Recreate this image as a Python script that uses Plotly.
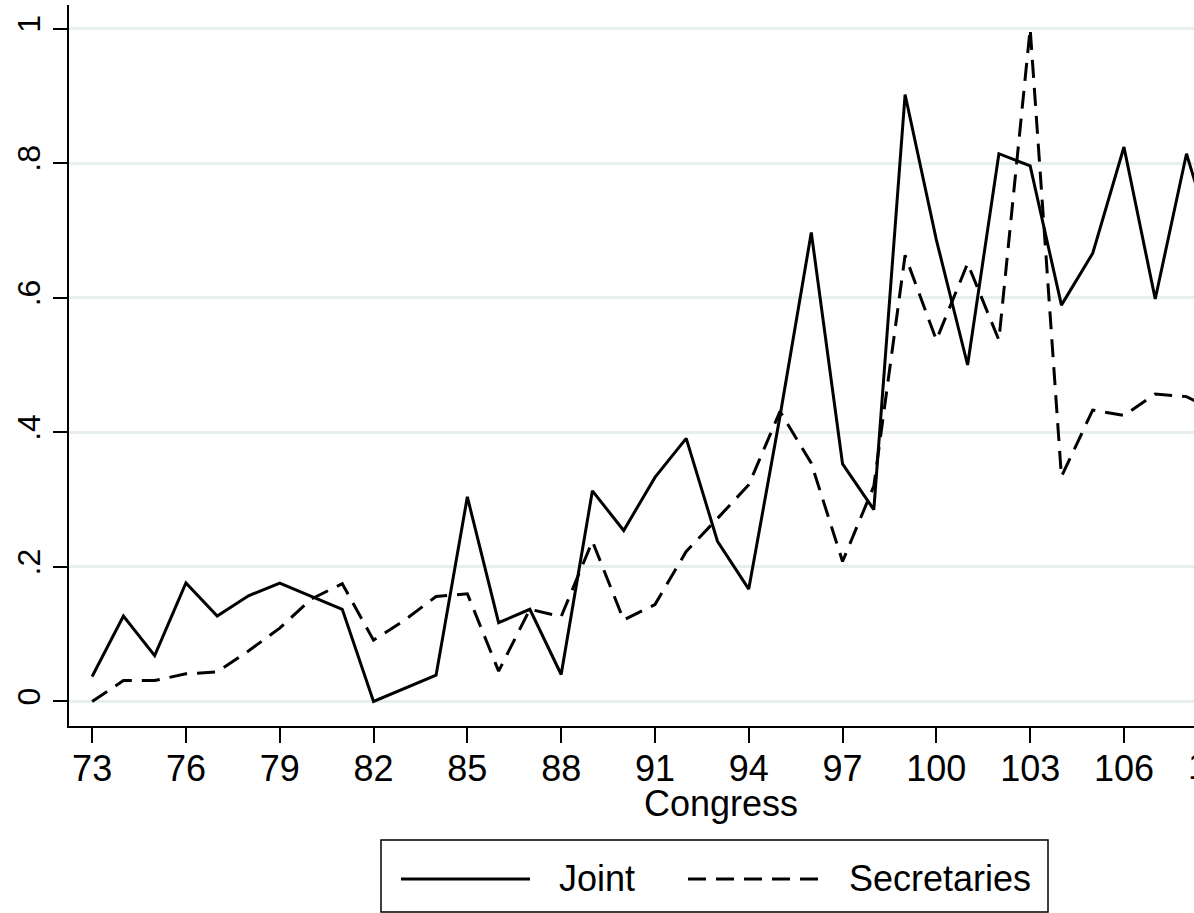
import plotly.graph_objects as go

# Congress numbers and the two shares plotted against them
congress = list(range(73, 110))
joint = [0.037, 0.127, 0.068, 0.176, 0.127, 0.157, 0.176, 0.156, 0.137, 0.0,
         0.02, 0.039, 0.304, 0.117, 0.137, 0.04, 0.313, 0.254, 0.333, 0.391,
         0.238, 0.167, 0.424, 0.697, 0.353, 0.285, 0.902, 0.686, 0.50, 0.814,
         0.796, 0.589, 0.666, 0.824, 0.598, 0.814, 0.66]
secretaries = [0.0, 0.031, 0.031, 0.041, 0.044, 0.075, 0.109, 0.152, 0.175, 0.091,
               0.121, 0.156, 0.160, 0.045, 0.137, 0.126, 0.238, 0.121, 0.144, 0.223,
               0.272, 0.322, 0.431, 0.354, 0.208, 0.32, 0.663, 0.537, 0.651, 0.537,
               1.0, 0.334, 0.433, 0.425, 0.457, 0.453, 0.43]

y_ticks = [0, 0.2, 0.4, 0.6, 0.8, 1]
y_tick_text = ["0", ".2", ".4", ".6", ".8", "1"]

FONT = "Liberation Sans, Arial, Helvetica, sans-serif"
W, H = 1194, 913
ML, MR, MT, MB = 69, 0, 5, 187
PW, PH = W - ML - MR, H - MT - MB
LINE_W = 3
DASH = "18px,10px"


def px(x):
    return (x - ML) / PW


def py(y):
    return (H - MB - y) / PH


fig = go.Figure()
fig.add_trace(go.Scatter(x=congress, y=joint, mode="lines", name="Joint",
                         line=dict(color="black", width=LINE_W), showlegend=False))
fig.add_trace(go.Scatter(x=congress, y=secretaries, mode="lines", name="Secretaries",
                         line=dict(color="black", width=LINE_W, dash=DASH),
                         showlegend=False))

# legend drawn as a framed box with long line samples
shapes = [
    dict(type="rect", xref="paper", yref="paper", x0=px(381), x1=px(1048),
         y0=py(912), y1=py(840), line=dict(color="black", width=1.5)),
    dict(type="line", xref="paper", yref="paper", x0=px(401), x1=px(530),
         y0=py(879), y1=py(879), line=dict(color="black", width=LINE_W)),
    dict(type="line", xref="paper", yref="paper", x0=px(688), x1=px(825),
         y0=py(879), y1=py(879), line=dict(color="black", width=LINE_W, dash=DASH)),
]
annotations = [
    dict(text="Joint", xref="paper", yref="paper", x=px(557), y=py(879),
         xanchor="left", yanchor="middle", showarrow=False,
         font=dict(family=FONT, size=36, color="black")),
    dict(text="Secretaries", xref="paper", yref="paper", x=px(847), y=py(879),
         xanchor="left", yanchor="middle", showarrow=False,
         font=dict(family=FONT, size=36, color="black")),
    # axis title, centred under the full axis span
    dict(text="Congress", xref="paper", yref="paper", x=px(721), y=py(803),
         xanchor="center", yanchor="middle", showarrow=False,
         font=dict(family=FONT, size=36, color="black")),
    # next tick label, running past the right edge of the figure
    dict(text="109", xref="paper", yref="paper", x=px(1217.7), y=py(766),
         xanchor="center", yanchor="middle", showarrow=False,
         font=dict(family=FONT, size=36, color="black")),
]

fig.update_layout(
    width=W, height=H,
    margin=dict(l=ML, r=MR, t=MT, b=MB, pad=0),
    paper_bgcolor="white", plot_bgcolor="white",
    font=dict(family=FONT, color="black"),
    shapes=shapes, annotations=annotations,
    xaxis=dict(range=[72.26, 108.24], tick0=73, dtick=3, showgrid=False,
               zeroline=False, showline=True, linecolor="black", linewidth=1.5,
               ticks="outside", ticklen=15, tickwidth=1.5, tickcolor="black",
               ticklabelstandoff=-5,
               tickfont=dict(family=FONT, size=36)),
    yaxis=dict(range=[-0.0365, 1.035], tickvals=y_ticks, ticktext=y_tick_text,
               showgrid=True, gridcolor="#e6eef0", gridwidth=2.5, zeroline=False,
               showline=True, linecolor="black", linewidth=1.5,
               ticks="outside", ticklen=14, tickwidth=1.5, tickcolor="black",
               tickangle=-90, tickfont=dict(family=FONT, size=32)),
)

fig.write_html("out.html")
